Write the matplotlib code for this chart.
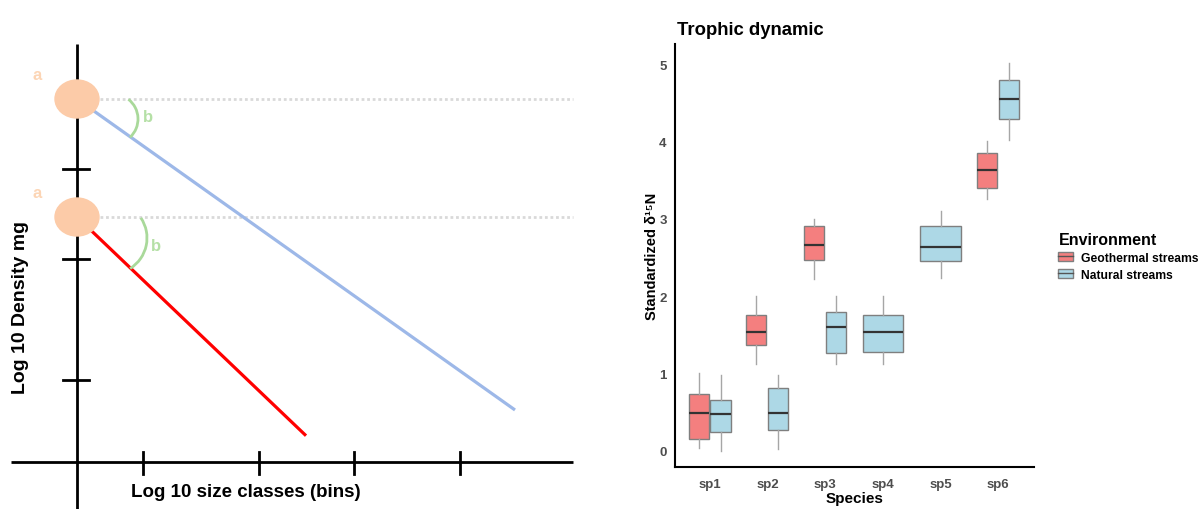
"""Size-spectrum schematic and trophic-dynamic boxplot."""

import matplotlib

matplotlib.use("Agg")

import matplotlib.pyplot as plt
from matplotlib.legend_handler import HandlerTuple
from matplotlib.lines import Line2D
from matplotlib.patches import Arc, Ellipse, Patch

plt.rcParams["font.family"] = ["Liberation Sans", "DejaVu Sans"]

# --- schematic (left), axis origin at the crossing of the two axes ---
x_ticks = [66, 182, 277, 383]
y_ticks = [82, 203, 293]
intercepts = [363, 245]                # "a" for each size spectrum
slopes = [-0.71, -0.955]               # "b" for each size spectrum
line_x = [(13, 438), (11, 229)]
line_colors = ["#9db8e8", "#ff0000"]
arc_centers = [(36, 343), (34, 224)]
arc_radius = [25, 36]
arc_angles = [(-47, 52), (-58, 34)]
b_label_pos = [(71, 345), (79, 216)]

# --- boxplot (right) ---
species = ["sp1", "sp2", "sp3", "sp4", "sp5", "sp6"]
environments = ["Geothermal streams", "Natural streams"]
env_colors = ["#f47f7f", "#add8e6"]
# species index, environment index, whislo, q1, median, q3, whishi
box_rows = [
    (0, 0, 0.04, 0.15, 0.49, 0.73, 1.00),
    (0, 1, 0.00, 0.24, 0.47, 0.65, 0.98),
    (1, 0, 1.12, 1.37, 1.54, 1.75, 2.00),
    (1, 1, 0.02, 0.27, 0.49, 0.81, 0.98),
    (2, 0, 2.22, 2.47, 2.66, 2.90, 3.00),
    (2, 1, 1.12, 1.27, 1.60, 1.80, 2.00),
    (3, 1, 1.12, 1.28, 1.53, 1.75, 2.00),
    (4, 1, 2.23, 2.45, 2.64, 2.91, 3.10),
    (5, 0, 3.26, 3.40, 3.63, 3.85, 4.00),
    (5, 1, 4.02, 4.29, 4.55, 4.79, 5.01),
]

fig = plt.figure(figsize=(12, 5.1), dpi=100)

# ---------------- left schematic ----------------
ax = fig.add_axes([0, 0, 0.5, 1])
ax.set_xlim(-77, 523)
ax.set_ylim(-47, 463)
ax.set_aspect("equal")
ax.axis("off")

ax.plot([-66, 496], [0, 0], color="black", lw=2, solid_capstyle="butt")
ax.plot([0, 0], [-47, 418], color="black", lw=2, solid_capstyle="butt")
for xt in x_ticks:
    ax.plot([xt, xt], [-12, 10], color="black", lw=2)
for yt in y_ticks:
    ax.plot([-14, 12], [yt, yt], color="black", lw=2)

for a, b, (x0, x1), col in zip(intercepts, slopes, line_x, line_colors):
    ax.plot([23, 496], [a, a], color="#d9d9d9", lw=2, ls=(0, (1, 1)))
    ax.plot([x0, x1], [a + b * x0, a + b * x1], color=col, lw=2.3,
            solid_capstyle="butt", zorder=3)
    ax.add_patch(Ellipse((0, a), 44, 38, color="#fccba8", zorder=4))
    ax.text(-40, a + 25, "a", color="#fcd5b5", fontsize=12, fontweight="bold",
            ha="center", va="center")

for (cx, cy), r, (t1, t2), (bx, by) in zip(arc_centers, arc_radius,
                                           arc_angles, b_label_pos):
    ax.add_patch(Arc((cx, cy), 2 * r, 2 * r, theta1=t1, theta2=t2,
                     color="#a9d99a", lw=2, zorder=5))
    ax.text(bx, by, "b", color="#b5e0a6", fontsize=12, fontweight="bold",
            ha="center", va="center")

ax.text(-57, 156, "Log 10 Density mg", rotation=90, fontsize=14,
        fontweight="bold", ha="center", va="center")
ax.text(169, -30, "Log 10 size classes (bins)", fontsize=13.5,
        fontweight="bold", ha="center", va="center")

# ---------------- right boxplot ----------------
bx_ax = fig.add_axes([0.5625, 0.0824, 0.2992, 0.8294])
counts = {}
for row in box_rows:
    counts[row[0]] = counts.get(row[0], 0) + 1

for si, ei, lo, q1, med, q3, hi in box_rows:
    if counts[si] == 1:
        pos, width = si + 1, 0.7
    else:
        pos, width = si + 1 + (-0.19 if ei == 0 else 0.19), 0.35
    stats = [dict(whislo=lo, q1=q1, med=med, q3=q3, whishi=hi, fliers=[])]
    bx_ax.bxp(stats, positions=[pos], widths=width, patch_artist=True,
              showcaps=False,
              boxprops=dict(facecolor=env_colors[ei], edgecolor="#7f7f7f", lw=1),
              whiskerprops=dict(color="#a6a6a6", lw=1),
              medianprops=dict(color="#333333", lw=1.6))

bx_ax.set_xlim(0.4, 6.62)
bx_ax.set_ylim(-0.21, 5.26)
bx_ax.set_xticks(range(1, len(species) + 1))
bx_ax.set_xticklabels(species)
bx_ax.set_yticks([0, 1, 2, 3, 4, 5])
bx_ax.tick_params(length=0, labelsize=9.5, labelcolor="#4d4d4d")
bx_ax.tick_params(axis="x", pad=8)
bx_ax.tick_params(axis="y", pad=6)
for lab in bx_ax.get_xticklabels() + bx_ax.get_yticklabels():
    lab.set_fontweight("bold")
for side in ["top", "right"]:
    bx_ax.spines[side].set_visible(False)
for side in ["left", "bottom"]:
    bx_ax.spines[side].set_linewidth(1.5)

bx_ax.set_xlabel("Species", fontsize=11, fontweight="bold", labelpad=0.5)
bx_ax.set_ylabel("Standardized δ¹⁵N", fontsize=10.5, fontweight="bold",
                 labelpad=0)
bx_ax.set_title("Trophic dynamic", fontsize=13.3, fontweight="bold",
                loc="left", pad=7, x=0.005)

handles = [(Patch(facecolor=c, edgecolor="#7f7f7f"),
            Line2D([], [], color="#555555", lw=1))
           for c in env_colors]
leg = fig.legend(handles=handles, labels=environments, title="Environment",
                 loc="upper left", bbox_to_anchor=(0.873, 0.565),
                 frameon=False, fontsize=8.7, title_fontsize=11.5,
                 handlelength=1.2, handleheight=0.8, handletextpad=0.7,
                 labelspacing=0.42, alignment="left",
                 handler_map={tuple: HandlerTuple(ndivide=1, pad=0)})
leg.get_title().set_fontweight("bold")
for t in leg.get_texts():
    t.set_fontweight("bold")

fig.savefig("out.png", dpi=100)
